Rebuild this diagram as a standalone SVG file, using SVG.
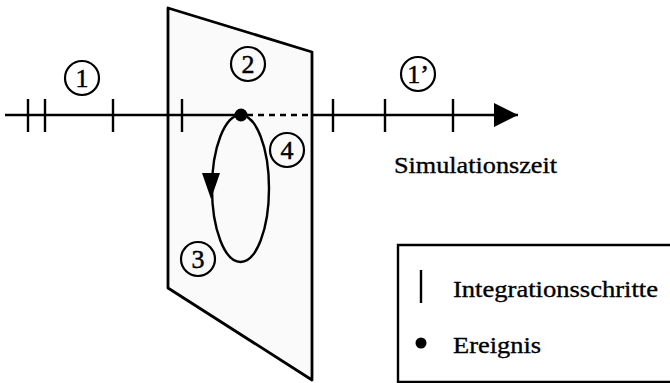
<svg xmlns="http://www.w3.org/2000/svg" width="670" height="383" viewBox="0 0 670 383">
<style>
.ln{stroke:#000;stroke-width:2.4;fill:none}
.tk{stroke:#000;stroke-width:2.4}
.cn{fill:none;stroke:#000;stroke-width:2.2}
.num{font-family:"Liberation Serif",serif;font-size:26px;fill:#000;stroke:#000;stroke-width:0.5;text-anchor:middle}
.lbl{font-family:"Liberation Serif",serif;font-size:24px;fill:#000;stroke:#000;stroke-width:0.35}
</style>
<defs>
<marker id="ah" viewBox="0 0 10 10" refX="10" refY="5" markerWidth="25" markerHeight="24" markerUnits="userSpaceOnUse" orient="auto"><path d="M0,0 L10,5 L0,10 Z" fill="#000"/></marker>
</defs>
<g id="plane">
<polygon points="168,8 312,52 312,380 168,288" fill="#fafafa" stroke="#000" stroke-width="2.8" stroke-linejoin="round"/>
</g>
<g id="connectors">
<line x1="5" y1="115" x2="241" y2="115" class="ln"/>
<line x1="247" y1="115" x2="312" y2="115" class="ln" stroke-dasharray="6,5"/>
<line x1="312" y1="115" x2="518" y2="115" class="ln" marker-end="url(#ah)"/>
<line x1="28" y1="99" x2="28" y2="132" class="tk"/>
<line x1="45" y1="99" x2="45" y2="132" class="tk"/>
<line x1="113" y1="99" x2="113" y2="132" class="tk"/>
<line x1="182" y1="99" x2="182" y2="132" class="tk"/>
<line x1="333" y1="99" x2="333" y2="132" class="tk"/>
<line x1="385" y1="99" x2="385" y2="132" class="tk"/>
<line x1="453" y1="99" x2="453" y2="132" class="tk"/>
<ellipse cx="240.5" cy="188.5" rx="28.5" ry="73.5" class="ln"/>
<polygon points="202,173 220,173 211,199" fill="#000"/>
</g>
<g id="event"><circle cx="241" cy="115" r="6.5" fill="#000"/></g>
<g id="n1"><circle cx="82" cy="78" r="17" class="cn"/><text x="82" y="87" class="num">1</text></g>
<g id="n2"><circle cx="248" cy="64" r="17" class="cn"/><text x="248" y="73" class="num">2</text></g>
<g id="n3"><circle cx="198" cy="259" r="17" class="cn"/><text x="198" y="268" class="num">3</text></g>
<g id="n4"><circle cx="287" cy="150" r="17" class="cn"/><text x="287" y="159" class="num">4</text></g>
<g id="n1p"><circle cx="418" cy="74" r="17" class="cn"/><text x="418" y="83" class="num">1’</text></g>
<g id="axislabel"><text x="394" y="173" class="lbl" textLength="163" lengthAdjust="spacingAndGlyphs">Simulationszeit</text></g>
<g id="legend">
<polyline points="672,245 398,245 398,382 672,382" fill="#fff" stroke="#000" stroke-width="2.4"/>
<line x1="421" y1="270" x2="421" y2="303" class="tk"/>
<circle cx="421" cy="343" r="5.5" fill="#000"/>
<text x="453" y="297" class="lbl" textLength="205" lengthAdjust="spacingAndGlyphs">Integrationsschritte</text>
<text x="453" y="353" class="lbl" textLength="88" lengthAdjust="spacingAndGlyphs">Ereignis</text>
</g>
</svg>
